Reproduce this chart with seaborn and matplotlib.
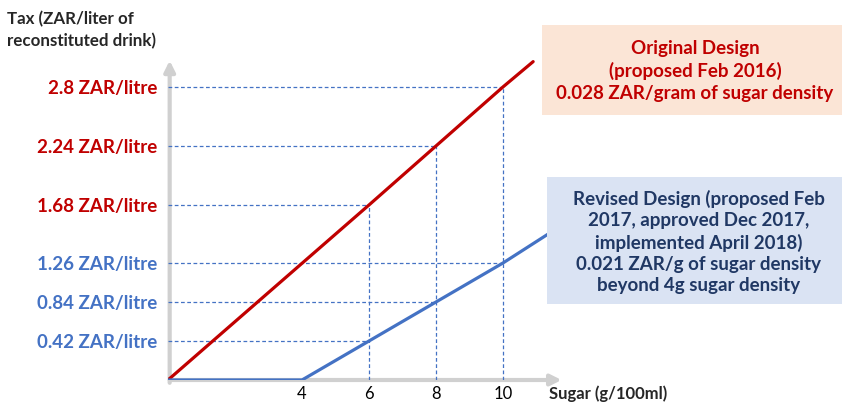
import numpy as np
import matplotlib
matplotlib.use("Agg")
import matplotlib.pyplot as plt
import seaborn as sns
from matplotlib.patches import Rectangle

# data
sugar_orig = [0, 6, 8, 10, 10.9]          # g/100ml
tax_orig = [0, 1.68, 2.24, 2.8, 3.04]     # ZAR/litre
sugar_rev = [0, 4, 6, 8, 10, 11.35]
tax_rev = [0, 0, 0.42, 0.84, 1.26, 1.47]
red_ticks = [1.68, 2.24, 2.8]
blue_ticks = [0.42, 0.84, 1.26]
x_ticks = [4, 6, 8, 10]
guide_x = [6, 8, 10]

RED = "#C00000"
BLUE = "#4472C4"
NAVY = "#203864"
GREY = "#D0D0D0"

sns.set_style("white")
plt.rcParams['font.family'] = ['Lato', 'DejaVu Sans']

W, H = 842, 403
fig = plt.figure(figsize=(W / 100, H / 100), dpi=100)
# axes placed in pixels: x=0 at 168px, baseline at 380px
ax = fig.add_axes([168 / W, 23 / H, 402 / W, 324.7 / H])

# the drawing is schematic: y spacing differs below/above 1.26, so use a piecewise scale
scale_vals = [-1, 0, 1.26, 1.68, 4]
scale_pos = [-93, 0, 117, 175, 419.5]
fwd = lambda v: np.interp(v, scale_vals, scale_pos)
inv = lambda p: np.interp(p, scale_pos, scale_vals)

sns.lineplot(x=sugar_orig, y=tax_orig, color=RED, lw=2.3, sort=False, estimator=None, ax=ax, zorder=4)
sns.lineplot(x=sugar_rev, y=tax_rev, color=BLUE, lw=2.3, sort=False, estimator=None, ax=ax, zorder=4)
ax.set_yscale('function', functions=(fwd, inv))
ax.set_xlim(0, 12)
ax.set_ylim(0, 3.1)

# dashed guides
dash = dict(color=BLUE, lw=0.9, ls=(0, (3, 2)), zorder=2)
for gx, rt, bt in zip(guide_x, red_ticks, blue_ticks):
    ax.plot([0, gx], [rt, rt], **dash)
    ax.plot([0, gx], [bt, bt], **dash)
    ax.plot([gx, gx], [0, rt], **dash)

# grey arrow axes
arr = dict(arrowstyle='-|>', color=GREY, lw=3, mutation_scale=16, shrinkA=0, shrinkB=0)
ax.annotate('', xy=(11.75, 0), xytext=(0.05, 0), arrowprops=arr, annotation_clip=False, zorder=1)
ax.annotate('', xy=(0.05, 3.05), xytext=(0.05, -0.03), arrowprops=arr, annotation_clip=False, zorder=1)

sns.despine(ax=ax, left=True, bottom=True)
yt = blue_ticks + red_ticks
ax.set_yticks(yt)
ax.set_yticklabels([f"{v:g} ZAR/litre" for v in yt])
for lab, v in zip(ax.get_yticklabels(), yt):
    lab.set_color(RED if v in red_ticks else BLUE)
    lab.set_fontweight('bold')
ax.yaxis.set_minor_locator(matplotlib.ticker.NullLocator())
ax.tick_params(axis='y', length=0, pad=8, labelsize=13.5)
ax.set_xticks(x_ticks)
ax.tick_params(axis='x', length=0, pad=4, labelsize=12, colors='black')
ax.patch.set_alpha(0)

# axis titles
fig.text(7 / W, 1 - 11 / H, "Tax (ZAR/liter of\nreconstituted drink)", ha='left', va='top',
         fontsize=12.2, fontweight='bold', linespacing=1.4)
fig.text(549 / W, 1 - 394 / H, "Sugar (g/100ml)", ha='left', va='center', fontsize=12, fontweight='bold')

# annotation boxes
fig.patches.append(Rectangle((542 / W, 1 - 115 / H), 300 / W, 90 / H, transform=fig.transFigure,
                             facecolor="#FBE5D6", edgecolor='none', zorder=0))
fig.text(695 / W, 1 - 71 / H, "Original Design\n(proposed Feb 2016)\n0.028 ZAR/gram of sugar density",
         ha='center', va='center', color=RED, fontsize=13.5, fontweight='bold', linespacing=1.33)
fig.patches.append(Rectangle((547 / W, 1 - 304 / H), 295 / W, 127 / H, transform=fig.transFigure,
                             facecolor="#DAE3F3", edgecolor='none', zorder=0))
fig.text(699 / W, 1 - 242 / H,
         "Revised Design (proposed Feb\n2017, approved Dec 2017,\nimplemented April 2018)\n"
         "0.021 ZAR/g of sugar density\nbeyond 4g sugar density",
         ha='center', va='center', color=NAVY, fontsize=13.5, fontweight='bold', linespacing=1.3)

fig.savefig("out.png", dpi=100)
